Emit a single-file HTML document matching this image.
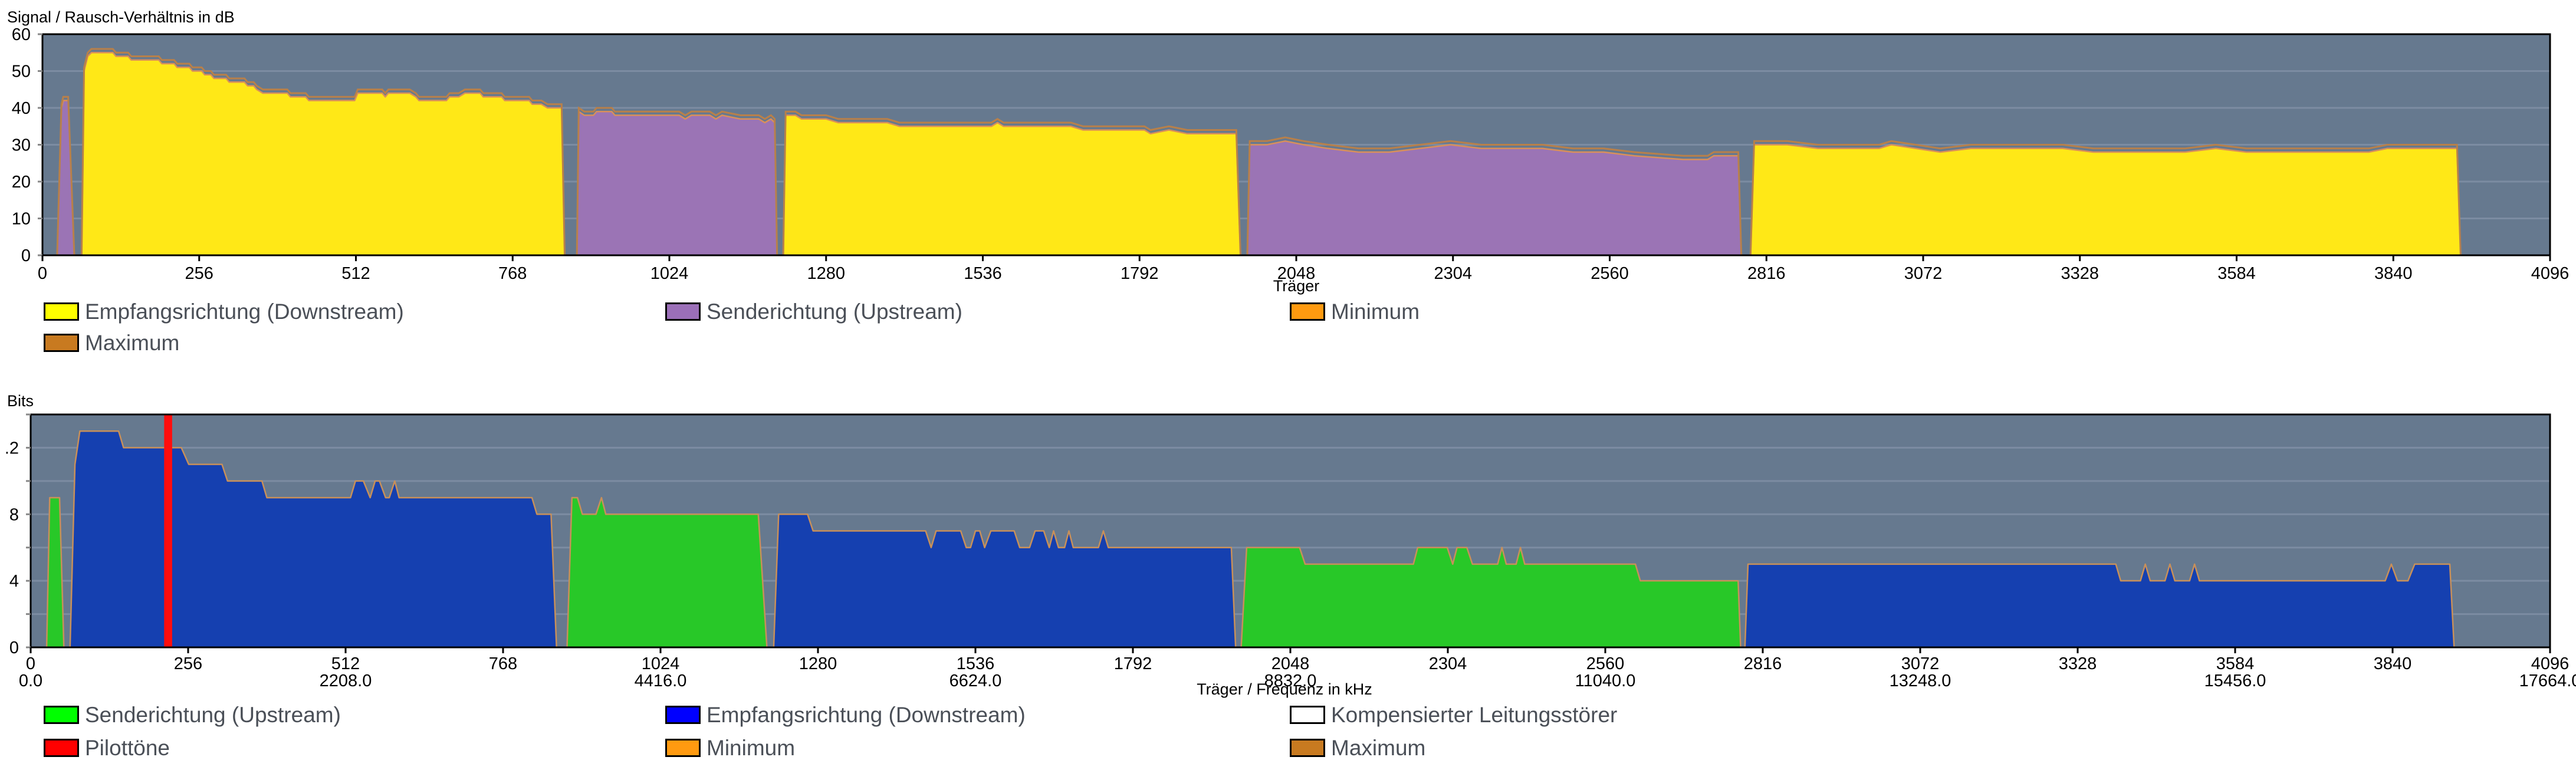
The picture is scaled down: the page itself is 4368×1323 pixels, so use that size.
<!DOCTYPE html>
<html><head><meta charset="utf-8">
<style>
html,body{margin:0;padding:0;background:#fff;}
body{width:4368px;height:1318px;overflow:hidden;font-family:"Liberation Sans",sans-serif;}
svg text{font-family:"Liberation Sans",sans-serif;}
</style></head>
<body>
<svg id="s" width="4368" height="1318" viewBox="0 0 4368 1318" xmlns="http://www.w3.org/2000/svg"></svg>
<script>
var NS="http://www.w3.org/2000/svg",S=document.getElementById('s');
function el(t,a,txt){var e=document.createElementNS(NS,t);for(var k in a)e.setAttribute(k,a[k]);if(txt!==undefined)e.textContent=txt;S.appendChild(e);return e;}
// ---- chart 1 ----
var L1=72,R1=4324,T1=58,B1=433;
function x1(c){return L1+c*(R1-L1)/4096;} function y1(v){return B1-v*(B1-T1)/60;}
el('rect',{x:L1,y:T1,width:R1-L1,height:B1-T1,fill:'#66798f'});
for(var v=10;v<60;v+=10){el('line',{x1:L1,x2:R1,y1:y1(v),y2:y1(v),stroke:'#7c8ca2','stroke-width':3});}
function poly(pts,fx,fy,fill,stroke,sw){var s=pts.map(function(p){return fx(p[0]).toFixed(1)+','+fy(p[1]).toFixed(1)}).join(' ');el('polygon',{points:s,fill:fill,stroke:stroke,'stroke-width':sw,'stroke-linejoin':'round'});}
function maxline(pts,fx,fy,d){var a=pts.map(function(p,i){var v=(i==0||i==pts.length-1)?p[1]:p[1]+d;return fx(p[0]).toFixed(1)+','+fy(v).toFixed(1)}).join(' ');el('polyline',{points:a,fill:'none',stroke:'#b8804a','stroke-width':3});}
var Y='#ffe817',P='#9b74b5';
var s1=[[64,0],[68,50],[74,54],[80,55],[115,55],[120,54],[140,54],[145,53],[190,53],[195,52],[215,52],[220,51],[240,51],[245,50],[260,50],[265,49],[275,49],[280,48],[300,48],[305,47],[330,47],[335,46],[345,46],[350,45],[360,44],[400,44],[405,43],[430,43],[435,42],[510,42],[515,44],[555,44],[560,43],[565,44],[600,44],[610,43],[615,42],[660,42],[665,43],[680,43],[690,44],[715,44],[720,43],[750,43],[755,42],[795,42],[800,41],[815,41],[825,40],[848,40],[853,0]];
var s0=[[24,0],[31,40],[34,42],[42,42],[52,0]];
var s2=[[873,0],[876,39],[885,38],[900,38],[905,39],[930,39],[935,38],[1040,38],[1050,37],[1060,38],[1090,38],[1100,37],[1110,38],[1140,37],[1170,37],[1180,36],[1190,37],[1196,36],[1200,0]];
var s3=[[1210,0],[1214,38],[1230,38],[1240,37],[1280,37],[1300,36],[1380,36],[1400,35],[1550,35],[1560,36],[1570,35],[1680,35],[1700,34],[1800,34],[1810,33],[1840,34],[1870,33],[1950,33],[1957,0]];
var s4=[[1968,0],[1972,30],[2000,30],[2030,31],[2060,30],[2100,29],[2150,28],[2200,28],[2250,29],[2300,30],[2350,29],[2450,29],[2500,28],[2550,28],[2600,27],[2680,26],[2720,26],[2730,27],[2770,27],[2775,0]];
var s5=[[2790,0],[2796,30],[2850,30],[2900,29],[3000,29],[3020,30],[3060,29],[3100,28],[3150,29],[3300,29],[3350,28],[3500,28],[3550,29],[3600,28],[3800,28],[3830,29],[3944,29],[3950,0]];
[[s0,P],[s1,Y],[s2,P],[s3,Y],[s4,P],[s5,Y]].forEach(function(a){poly(a[0],x1,y1,a[1],'#d9905a',2.5);maxline(a[0],x1,y1,1);});
el('rect',{x:L1,y:T1,width:R1-L1,height:B1-T1,fill:'none',stroke:'#000','stroke-width':3});
for(var v=0;v<=60;v+=10){el('line',{x1:L1-8,x2:L1,y1:y1(v),y2:y1(v),stroke:'#888','stroke-width':3});el('text',{x:52,y:y1(v)+10,'font-size':29,'text-anchor':'end'},String(v));}
for(var c=0;c<=4096;c+=256){el('line',{x1:x1(c),x2:x1(c),y1:B1,y2:B1+10,stroke:'#000','stroke-width':3});el('text',{x:x1(c),y:473,'font-size':29,'text-anchor':'middle'},String(c));}
el('text',{x:x1(2048),y:494,'font-size':27,'text-anchor':'middle'},'Träger');
el('text',{x:12,y:38,'font-size':27},'Signal / Rausch-Verhältnis in dB');
// ---- chart 2 ----
var L2=52,R2=4324,T2=703,B2=1098;
function x2(c){return L2+c*(R2-L2)/4096;} function y2(v){return B2-v*(B2-T2)/14;}
el('rect',{x:L2,y:T2,width:R2-L2,height:B2-T2,fill:'#66798f'});
for(var v=2;v<14;v+=2){el('line',{x1:L2,x2:R2,y1:y2(v),y2:y2(v),stroke:'#7c8ca2','stroke-width':3});}
var G='#28c828',B='#1540b0';
var b0=[[26,0],[31,9],[47,9],[54,0]];
var b1=[[64,0],[72,11],[80,13],[143,13],[151,12],[245,12],[257,11],[311,11],[320,10],[376,10],[384,9],[520,9],[528,10],[541,10],[552,9],[560,10],[567,10],[577,9],[583,9],[592,10],[599,9],[815,9],[823,8],[846,8],[855,0]];
var b2=[[872,0],[880,9],[889,9],[897,8],[919,8],[928,9],[935,8],[1183,8],[1197,0]];
var b3=[[1208,0],[1216,8],[1263,8],[1272,7],[1455,7],[1464,6],[1472,7],[1512,7],[1521,6],[1528,6],[1536,7],[1543,7],[1551,6],[1561,7],[1599,7],[1608,6],[1624,6],[1633,7],[1647,7],[1656,6],[1663,7],[1671,6],[1681,6],[1688,7],[1695,6],[1736,6],[1744,7],[1752,6],[1952,6],[1959,0]];
var b4=[[1968,0],[1977,6],[2063,6],[2072,5],[2248,5],[2255,6],[2303,6],[2312,5],[2319,6],[2335,6],[2344,5],[2385,5],[2392,6],[2399,5],[2415,5],[2422,6],[2429,5],[2609,5],[2617,4],[2776,4],[2780,0]];
var b5=[[2787,0],[2792,5],[3390,5],[3398,4],[3430,4],[3438,5],[3446,4],[3470,4],[3478,5],[3486,4],[3510,4],[3518,5],[3526,4],[3828,4],[3838,5],[3848,4],[3865,4],[3876,5],[3933,5],[3940,0]];
[[b0,G],[b1,B],[b2,G],[b3,B],[b4,G],[b5,B]].forEach(function(a){poly(a[0],x2,y2,a[1],'#c8905a',2.5);});
el('rect',{x:x2(217),y:T2,width:x2(230)-x2(217),height:B2-T2,fill:'#ff0d0d'});
el('rect',{x:L2,y:T2,width:R2-L2,height:B2-T2,fill:'none',stroke:'#000','stroke-width':3});
[[0,'0'],[4,'4'],[8,'8'],[12,'.2']].forEach(function(a){el('text',{x:32,y:y2(a[0])+10,'font-size':29,'text-anchor':'end'},a[1]);});
for(var v=0;v<=14;v+=2)el('line',{x1:L2-8,x2:L2,y1:y2(v),y2:y2(v),stroke:'#888','stroke-width':3});
for(var c=0;c<=4096;c+=256){el('line',{x1:x2(c),x2:x2(c),y1:B2,y2:B2+10,stroke:'#000','stroke-width':3});el('text',{x:x2(c),y:1135,'font-size':29,'text-anchor':'middle'},String(c));}
for(var c=0;c<=4096;c+=512){el('text',{x:x2(c),y:1164,'font-size':29,'text-anchor':'middle'},(c*4.3125).toFixed(1));}
el('text',{x:x2(2048)-10,y:1178,'font-size':27,'text-anchor':'middle'},'Träger / Frequenz in kHz');
el('text',{x:12,y:689,'font-size':27},'Bits');
// ---- legends ----
function leg(x,y,col,txt){el('rect',{x:x+1.5,y:y+1.5,width:57,height:28,fill:col,stroke:'#000','stroke-width':3});el('text',{x:x+70,y:y+28,'font-size':37,fill:'#4a4f57'},txt);}
leg(74,513,'#ffff00','Empfangsrichtung (Downstream)');leg(1128,513,'#9b6fb8','Senderichtung (Upstream)');leg(2187,513,'#ff9a10','Minimum');
leg(74,566,'#c87a20','Maximum');
leg(74,1197,'#00ff00','Senderichtung (Upstream)');leg(1128,1197,'#0000ff','Empfangsrichtung (Downstream)');leg(2187,1197,'#ffffff','Kompensierter Leitungsstörer');
leg(74,1253,'#ff0000','Pilottöne');leg(1128,1253,'#ff9a10','Minimum');leg(2187,1253,'#c87a20','Maximum');
</script>
</body></html>
